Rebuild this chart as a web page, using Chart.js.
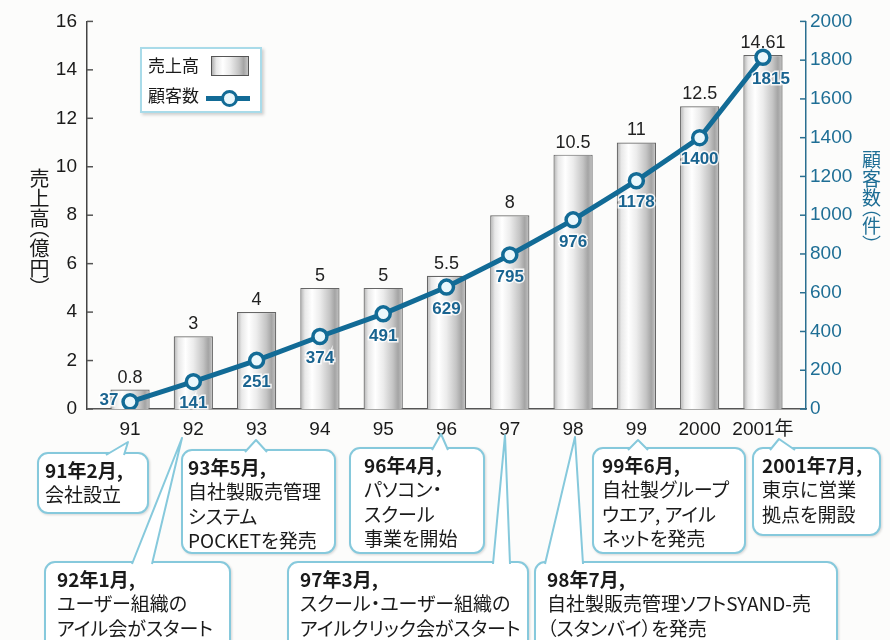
<!DOCTYPE html>
<html lang="ja">
<head>
<meta charset="utf-8">
<title>売上高と顧客数の推移</title>
<script src="https://cdn.jsdelivr.net/npm/chart.js@4.4.0/dist/chart.umd.min.js"></script>
<style>
  html, body { margin: 0; padding: 0; background: #fcfcfb; }
  #wrap { position: relative; width: 890px; height: 640px; overflow: hidden;
    font-family: "Noto Sans CJK JP", "Liberation Sans", sans-serif; }
  #chart { position: absolute; left: 0; top: 0; }
  #notes { position: absolute; left: 0; top: 0; pointer-events: none; }
  #notes text { font-family: "Noto Sans CJK JP", sans-serif; font-size: 19px; fill: #1a1a1a;
    font-feature-settings: "palt"; }
  .legend { position: absolute; left: 140px; top: 47px; width: 118px; height: 62px;
    background: #fff; border: 2px solid #a9dbe9; box-shadow: 2px 2px 3px rgba(0,0,0,0.18); }
  .legend .lbl { position: absolute; left: 6px; font-size: 17px; color: #1a1a1a; line-height: 20px; }
  .legend .sw { position: absolute; left: 69px; top: 7px; width: 36px; height: 18px;
    border: 1px solid #555;
    background: linear-gradient(90deg, #b0b0b0, #e8e8e8 12%, #fff 30%, #ececec 50%, #c4c4c4 75%, #a4a4a4 88%, #c6c6c6); }
  .legend .ln { position: absolute; left: 64px; top: 47px; width: 44px; height: 5px; background: #126b96; }
  .legend .dot { position: absolute; left: 79px; top: 41px; width: 11px; height: 11px; border-radius: 50%;
    border: 3px solid #126b96; background: #eaf7fc; }
  .vtitle { position: absolute; writing-mode: vertical-rl; text-orientation: mixed;
    font-feature-settings: "vpal"; line-height: 1; }
</style>
</head>
<body>
<div id="wrap">
  <canvas id="chart" width="890" height="640"></canvas>
  <svg id="notes" width="890" height="640"></svg>
  <div class="legend">
    <div class="lbl" style="top:6px">売上高</div><div class="sw"></div>
    <div class="lbl" style="top:36px">顧客数</div><div class="ln"></div><div class="dot"></div>
  </div>
  <div class="vtitle" style="left:29px; top:168px; font-size:20px; color:#1a1a1a;">売上高（億円）</div>
  <div class="vtitle" style="left:862px; top:150px; font-size:19px; color:#1e6e95;">顧客数（件）</div>
</div>
<script>
// --- DATA ---
const years = ['91', '92', '93', '94', '95', '96', '97', '98', '99', '2000', '2001年'];
const salesOku = [0.8, 3, 4, 5, 5, 5.5, 8, 10.5, 11, 12.5, 14.61];   // 売上高（億円）
const customers = [37, 141, 251, 374, 491, 629, 795, 976, 1178, 1400, 1815]; // 顧客数（件）
const salesTicks = [0, 2, 4, 6, 8, 10, 12, 14, 16];
const customerTicks = [0, 200, 400, 600, 800, 1000, 1200, 1400, 1600, 1800, 2000];

// --- callout notes under the axis ---
const notes = [
  { x: 38,  y: 453, w: 110, h: 60,  tx: 45,  tail: [106, 124, 128, 442], lines: ['91年2月,', '会社設立'] },
  { x: 182, y: 450, w: 153, h: 103, tx: 188, tail: [245, 267, 256, 440], lines: ['93年5月,', '自社製販売管理', 'システム', 'POCKETを発売'] },
  { x: 350, y: 448, w: 134, h: 105, tx: 364, tail: [432, 448, 441, 434], lines: ['96年4月,', 'パソコン・', 'スクール', '事業を開始'] },
  { x: 593, y: 448, w: 152, h: 105, tx: 602, tail: [628, 648, 638, 440], lines: ['99年6月,', '自社製グループ', 'ウエア, アイル', 'ネットを発売'] },
  { x: 753, y: 448, w: 127, h: 87,  tx: 762, tail: [770, 795, 779, 439], lines: ['2001年7月,', '東京に営業', '拠点を開設'] },
  { x: 45,  y: 562, w: 185, h: 95,  tx: 57,  tail: [132, 152, 182, 438], lines: ['92年1月,', 'ユーザー組織の', 'アイル会がスタート'] },
  { x: 288, y: 562, w: 240, h: 95,  tx: 300, tail: [493, 510, 505, 435], lines: ['97年3月,', 'スクール・ユーザー組織の', 'アイルクリック会がスタート'] },
  { x: 535, y: 562, w: 302, h: 95,  tx: 547, tail: [545, 583, 575, 437], lines: ['98年7月,', '自社製販売管理ソフトSYAND-売', '（スタンバイ）を発売'] }
];

const svg = document.getElementById('notes');
const NS = 'http://www.w3.org/2000/svg';
notes.forEach(n => {
  const r = document.createElementNS(NS, 'rect');
  r.setAttribute('x', n.x); r.setAttribute('y', n.y);
  r.setAttribute('width', n.w); r.setAttribute('height', n.h);
  r.setAttribute('rx', 10);
  r.setAttribute('fill', '#fff'); r.setAttribute('stroke', '#86c9dc'); r.setAttribute('stroke-width', 2);
  r.setAttribute('style', 'filter: drop-shadow(1px 1px 1px rgba(0,0,0,0.15))');
  svg.appendChild(r);
  const [b1, b2, ax, ay] = n.tail;
  const t = document.createElementNS(NS, 'polyline');
  t.setAttribute('points', `${b1},${n.y + 2} ${ax},${ay} ${b2},${n.y + 2}`);
  t.setAttribute('fill', '#fff'); t.setAttribute('stroke', '#86c9dc'); t.setAttribute('stroke-width', 2);
  t.setAttribute('stroke-linejoin', 'round');
  svg.appendChild(t);
  n.lines.forEach((s, i) => {
    const tx = document.createElementNS(NS, 'text');
    tx.setAttribute('x', n.tx);
    tx.setAttribute('y', n.y + 16 + i * 24.5);
    tx.setAttribute('dominant-baseline', 'central');
    if (i === 0) tx.setAttribute('font-weight', '700');
    tx.textContent = s;
    svg.appendChild(tx);
  });
});

// --- CHART ---
const numFont = '"Liberation Sans", "Noto Sans CJK JP", sans-serif';
const lineBlue = '#126b96';

function barGradient(c) {
  const chart = c.chart;
  if (!chart.chartArea || c.dataIndex === undefined) return '#ddd';
  const xs = chart.scales.x;
  const cx = xs.getPixelForValue(c.dataIndex);
  const half = (xs.getPixelForValue(1) - xs.getPixelForValue(0)) * 0.62 / 2;
  const g = chart.ctx.createLinearGradient(cx - half, 0, cx + half, 0);
  g.addColorStop(0, '#b0b0b0');
  g.addColorStop(0.12, '#e8e8e8');
  g.addColorStop(0.3, '#ffffff');
  g.addColorStop(0.5, '#ececec');
  g.addColorStop(0.75, '#c4c4c4');
  g.addColorStop(0.88, '#a4a4a4');
  g.addColorStop(1, '#c6c6c6');
  return g;
}

// inward tick marks on both value axes + value labels
const extras = {
  id: 'extras',
  afterDraw(chart) {
    const { ctx, chartArea: a } = chart;
    const y = chart.scales.y, y1 = chart.scales.y1;
    ctx.save();
    ctx.lineWidth = 1.5;
    ctx.strokeStyle = '#555';
    salesTicks.forEach(v => {
      const py = y.getPixelForValue(v);
      ctx.beginPath(); ctx.moveTo(a.left, py); ctx.lineTo(a.left + 6, py); ctx.stroke();
    });
    ctx.strokeStyle = '#2a6f90';
    customerTicks.forEach(v => {
      const py = y1.getPixelForValue(v);
      ctx.beginPath(); ctx.moveTo(a.right, py); ctx.lineTo(a.right - 6, py); ctx.stroke();
    });

    // bar values
    ctx.textAlign = 'center';
    ctx.textBaseline = 'middle';
    ctx.font = '18px ' + numFont;
    ctx.fillStyle = '#222';
    chart.getDatasetMeta(1).data.forEach((el, i) => {
      ctx.fillText(String(salesOku[i]), el.x, el.y - 12);
    });

    // customer values
    ctx.font = 'bold 17px ' + numFont;
    ctx.lineWidth = 3;
    ctx.strokeStyle = 'rgba(255,255,255,0.85)';
    ctx.fillStyle = '#1a6490';
    const pts = chart.getDatasetMeta(0).data;
    pts.forEach((el, i) => {
      let lx = el.x, ly = el.y + 22;
      if (i === 0) { lx = el.x - 21; ly = el.y - 2; }
      if (i === pts.length - 1) { lx = el.x + 8; }
      ctx.strokeText(String(customers[i]), lx, ly);
      ctx.fillText(String(customers[i]), lx, ly);
    });
    ctx.restore();
  }
};

new Chart(document.getElementById('chart'), {
  type: 'bar',
  data: {
    datasets: [
      {
        type: 'line',
        label: '顧客数',
        data: customers.map((v, i) => ({ x: i, y: v })),
        yAxisID: 'y1',
        order: 0,
        borderColor: lineBlue,
        borderWidth: 5,
        pointRadius: 7,
        pointHoverRadius: 7,
        pointBorderWidth: 3.5,
        pointBackgroundColor: '#eaf7fc',
        pointBorderColor: lineBlue,
        tension: 0
      },
      {
        label: '売上高',
        data: salesOku.map((v, i) => ({ x: i, y: v })),
        yAxisID: 'y',
        order: 1,
        backgroundColor: barGradient,
        borderColor: '#666',
        borderWidth: 1.2,
        barPercentage: 0.62,
        categoryPercentage: 1
      }
    ]
  },
  options: {
    responsive: false,
    animation: false,
    devicePixelRatio: 1,
    layout: { padding: { top: 20, left: 0, right: 0, bottom: 0 } },
    plugins: { legend: { display: false }, tooltip: { enabled: false } },
    scales: {
      x: {
        type: 'linear',
        min: -0.68,
        max: 10.68,
        offset: false,
        afterBuildTicks: s => { s.ticks = years.map((_, i) => ({ value: i })); },
        afterFit: s => { s.height = 231; },
        grid: { display: false, drawTicks: false },
        border: { display: true, color: '#555', width: 1.5 },
        ticks: {
          autoSkip: false, maxRotation: 0, padding: 9,
          color: '#1a1a1a',
          font: { family: numFont, size: 19 },
          callback: v => years[v]
        }
      },
      y: {
        position: 'left',
        min: 0, max: 16,
        afterBuildTicks: s => { s.ticks = salesTicks.map(v => ({ value: v })); },
        afterFit: s => { s.width = 87; },
        grid: { display: false, drawTicks: false },
        border: { display: true, color: '#444', width: 1.5 },
        ticks: { padding: 10, color: '#1a1a1a', font: { family: numFont, size: 19 }, callback: v => String(v) }
      },
      y1: {
        position: 'right',
        min: 0, max: 2000,
        afterBuildTicks: s => { s.ticks = customerTicks.map(v => ({ value: v })); },
        afterFit: s => { s.width = 84; },
        grid: { display: false, drawTicks: false },
        border: { display: true, color: '#2a6f90', width: 1.5 },
        ticks: { padding: 4, color: '#1e6e95', font: { family: numFont, size: 19 }, callback: v => String(v) }
      }
    }
  },
  plugins: [extras]
});
</script>
</body>
</html>
